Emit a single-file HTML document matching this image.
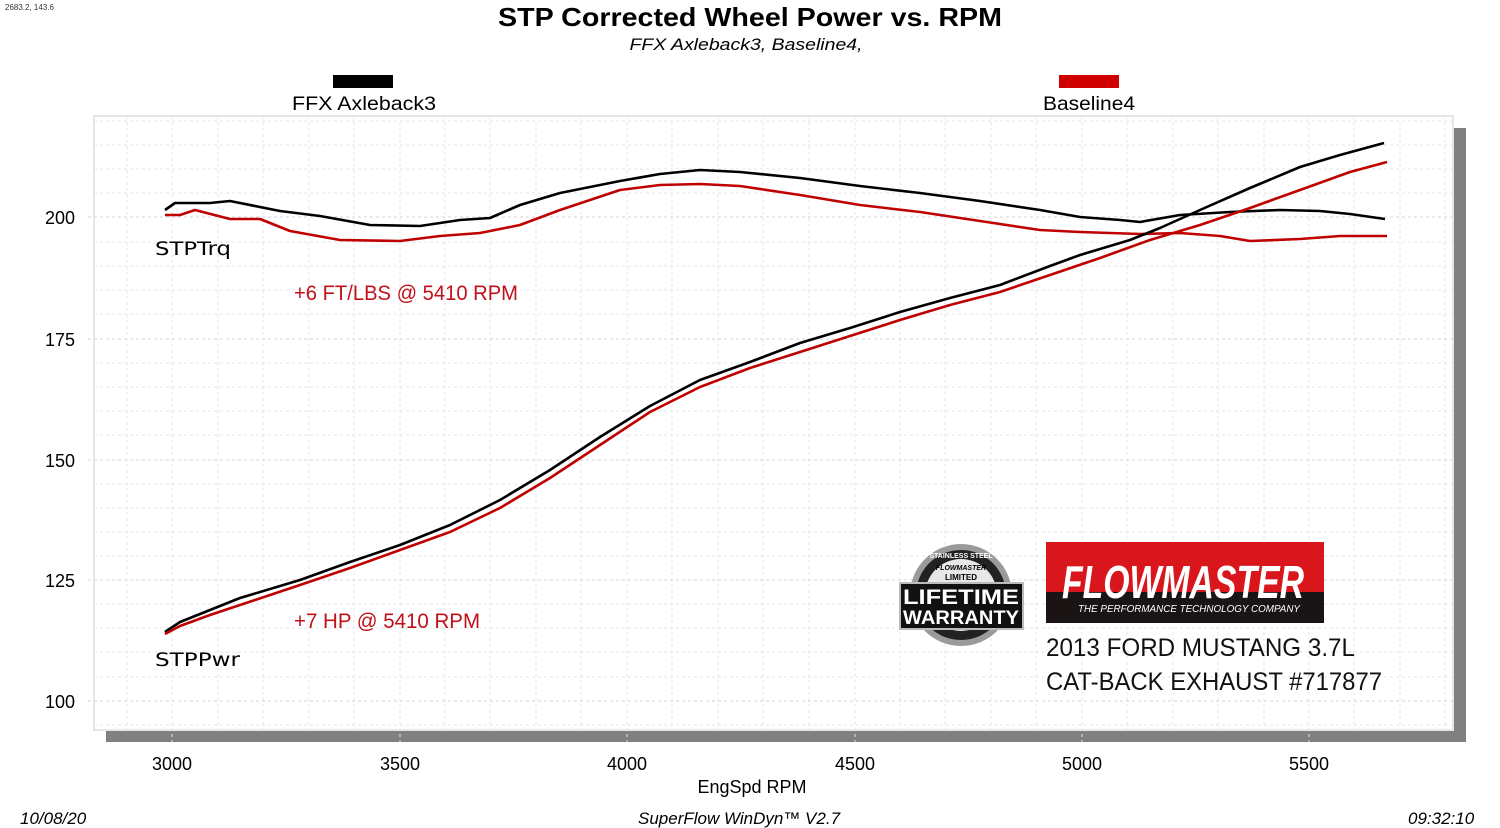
<!DOCTYPE html>
<html><head><style>
body{margin:0;background:#fff;}
svg{display:block;}
</style></head><body>
<svg width="1500" height="828" xmlns="http://www.w3.org/2000/svg" font-family="Liberation Sans, Arial, sans-serif">
<rect width="1500" height="828" fill="#fff"/>
<text x="5" y="10" font-size="8" fill="#333">2683.2, 143.6</text>
<text x="750" y="26" font-size="26" font-weight="bold" text-anchor="middle" fill="#000" textLength="504" lengthAdjust="spacingAndGlyphs">STP Corrected Wheel Power vs. RPM</text>
<text x="746" y="50" font-size="17" font-style="italic" text-anchor="middle" fill="#000" textLength="233" lengthAdjust="spacingAndGlyphs">FFX Axleback3, Baseline4,</text>
<rect x="333" y="75" width="60" height="13" fill="#000"/>
<text x="364" y="110" font-size="19" text-anchor="middle" textLength="144" lengthAdjust="spacingAndGlyphs">FFX Axleback3</text>
<rect x="1059" y="75" width="60" height="13" fill="#d00000"/>
<text x="1089" y="110" font-size="19" text-anchor="middle" textLength="92" lengthAdjust="spacingAndGlyphs">Baseline4</text>
<rect x="1454" y="128" width="12" height="614" fill="#808080"/>
<rect x="106" y="731" width="1360" height="11" fill="#808080"/>
<rect x="94" y="116" width="1359" height="614" fill="#fff" stroke="#ddd" stroke-width="1.5"/>
<g stroke="#e6e6e6" stroke-width="1" stroke-dasharray="3,3">
<path d="M127 116V730M172 116V742M218 116V730M263 116V730M309 116V730M354 116V730M400 116V742M445 116V730M490 116V730M536 116V730M581 116V730M627 116V742M672 116V730M718 116V730M763 116V730M809 116V730M855 116V742M900 116V730M945 116V730M991 116V730M1036 116V730M1082 116V742M1127 116V730M1173 116V730M1218 116V730M1264 116V730M1309 116V742M1354 116V730M1400 116V730M1445 116V730"/>
<path d="M94 121H1453M94 145H1453M94 169H1453M94 193H1453M94 242H1453M94 266H1453M94 290H1453M94 314H1453M94 363H1453M94 387H1453M94 411H1453M94 435H1453M94 484H1453M94 508H1453M94 532H1453M94 556H1453M94 604H1453M94 628H1453M94 652H1453M94 677H1453M94 725H1453"/>
</g>
<g stroke="#d6d6d6" stroke-width="1" stroke-dasharray="3,3">
<path d="M88 217H1453M88 339H1453M88 460H1453M88 580H1453M88 701H1453"/>
</g>
<g font-size="18" text-anchor="end" fill="#000">
<text x="75" y="224">200</text><text x="75" y="346">175</text><text x="75" y="467">150</text><text x="75" y="587">125</text><text x="75" y="708">100</text>
</g>
<g font-size="18" text-anchor="middle" fill="#000">
<text x="172" y="770">3000</text><text x="400" y="770">3500</text><text x="627" y="770">4000</text><text x="855" y="770">4500</text><text x="1082" y="770">5000</text><text x="1309" y="770">5500</text>
<text x="752" y="793">EngSpd  RPM</text>
</g>
<g font-size="17" font-style="italic" fill="#000">
<text x="20" y="824">10/08/20</text>
<text x="638" y="824">SuperFlow WinDyn™ V2.7</text>
<text x="1408" y="824">09:32:10</text>
</g>
<g fill="none" stroke-width="2.6" stroke-linejoin="round">
<polyline stroke="#000" points="165,210 175,203 190,203 210,203 230,201 280,211 320,216 370,225 420,226 460,220 490,218 520,205 560,193 620,181 660,174 700,170 740,172 800,178 860,186 920,193 980,201 1040,210 1080,217 1120,220 1140,222 1180,215 1230,212 1280,210 1320,211 1350,214 1385,219"/>
<polyline stroke="#c00000" points="165,215 180,215 195,210 230,219 260,219 290,231 340,240 400,241 440,236 480,233 520,225 560,210 620,190 660,185 700,184 740,186 800,195 860,205 920,212 980,221 1040,230 1080,232 1140,234 1180,233 1220,236 1250,241 1300,239 1340,236 1387,236"/>
<polyline stroke="#000" points="165,632 180,622 210,610 240,598 300,580 350,562 400,545 450,525 500,500 550,470 600,437 650,406 700,380 750,362 800,343 850,328 900,312 950,298 1000,285 1050,266 1080,255 1130,240 1160,228 1200,210 1250,188 1300,167 1340,155 1384,143"/>
<polyline stroke="#c00000" points="165,634 180,626 210,615 240,605 300,585 350,568 400,550 450,532 500,508 550,478 600,445 650,412 700,387 750,368 800,352 850,336 900,320 950,305 1000,292 1050,275 1100,258 1150,240 1200,225 1250,208 1300,190 1350,172 1387,162"/>
</g>
<g font-family="DejaVu Sans, Liberation Sans, sans-serif" font-size="19">
<text x="155" y="255" textLength="76" lengthAdjust="spacingAndGlyphs">STPTrq</text>
<text x="155" y="666" textLength="85" lengthAdjust="spacingAndGlyphs">STPPwr</text>
</g>
<g font-size="21" fill="#c0101a">
<text x="294" y="300" textLength="224" lengthAdjust="spacingAndGlyphs">+6 FT/LBS @ 5410 RPM</text>
<text x="294" y="628" textLength="186" lengthAdjust="spacingAndGlyphs">+7 HP @ 5410 RPM</text>
</g>
<circle cx="961" cy="595" r="51" fill="#9a9a9a"/>
<circle cx="961" cy="595" r="45" fill="#222"/>
<circle cx="961" cy="595" r="36" fill="#e8e8e8"/>
<rect x="900" y="583" width="123" height="46" fill="#111" stroke="#bbb" stroke-width="2"/>
<text x="961" y="604" font-size="21" font-weight="bold" fill="#fff" text-anchor="middle" textLength="116" lengthAdjust="spacingAndGlyphs">LIFETIME</text>
<text x="961" y="624" font-size="19" font-weight="bold" fill="#fff" text-anchor="middle" textLength="116" lengthAdjust="spacingAndGlyphs">WARRANTY</text>
<text x="961" y="570" font-size="7" font-style="italic" font-weight="bold" text-anchor="middle">FLOWMASTER</text>
<text x="961" y="580" font-size="8" font-weight="bold" text-anchor="middle">LIMITED</text>
<text x="961" y="558" font-size="7" font-weight="bold" fill="#fff" text-anchor="middle">STAINLESS STEEL</text>
<rect x="1046" y="542" width="278" height="50" fill="#d8161c"/>
<rect x="1046" y="592" width="278" height="31" fill="#1a1414"/>
<text x="1062" y="598" font-size="46" font-weight="bold" font-style="italic" fill="#fff" textLength="242" lengthAdjust="spacingAndGlyphs">FLOWMASTER</text>
<text x="1078" y="612" font-size="10.5" font-style="italic" fill="#fff" textLength="222" lengthAdjust="spacingAndGlyphs">THE PERFORMANCE TECHNOLOGY COMPANY</text>
<text x="1046" y="656" font-size="25" fill="#111" textLength="309" lengthAdjust="spacingAndGlyphs">2013 FORD MUSTANG 3.7L</text>
<text x="1046" y="690" font-size="25" fill="#111" textLength="336" lengthAdjust="spacingAndGlyphs">CAT-BACK EXHAUST #717877</text>
</svg>
</body></html>
